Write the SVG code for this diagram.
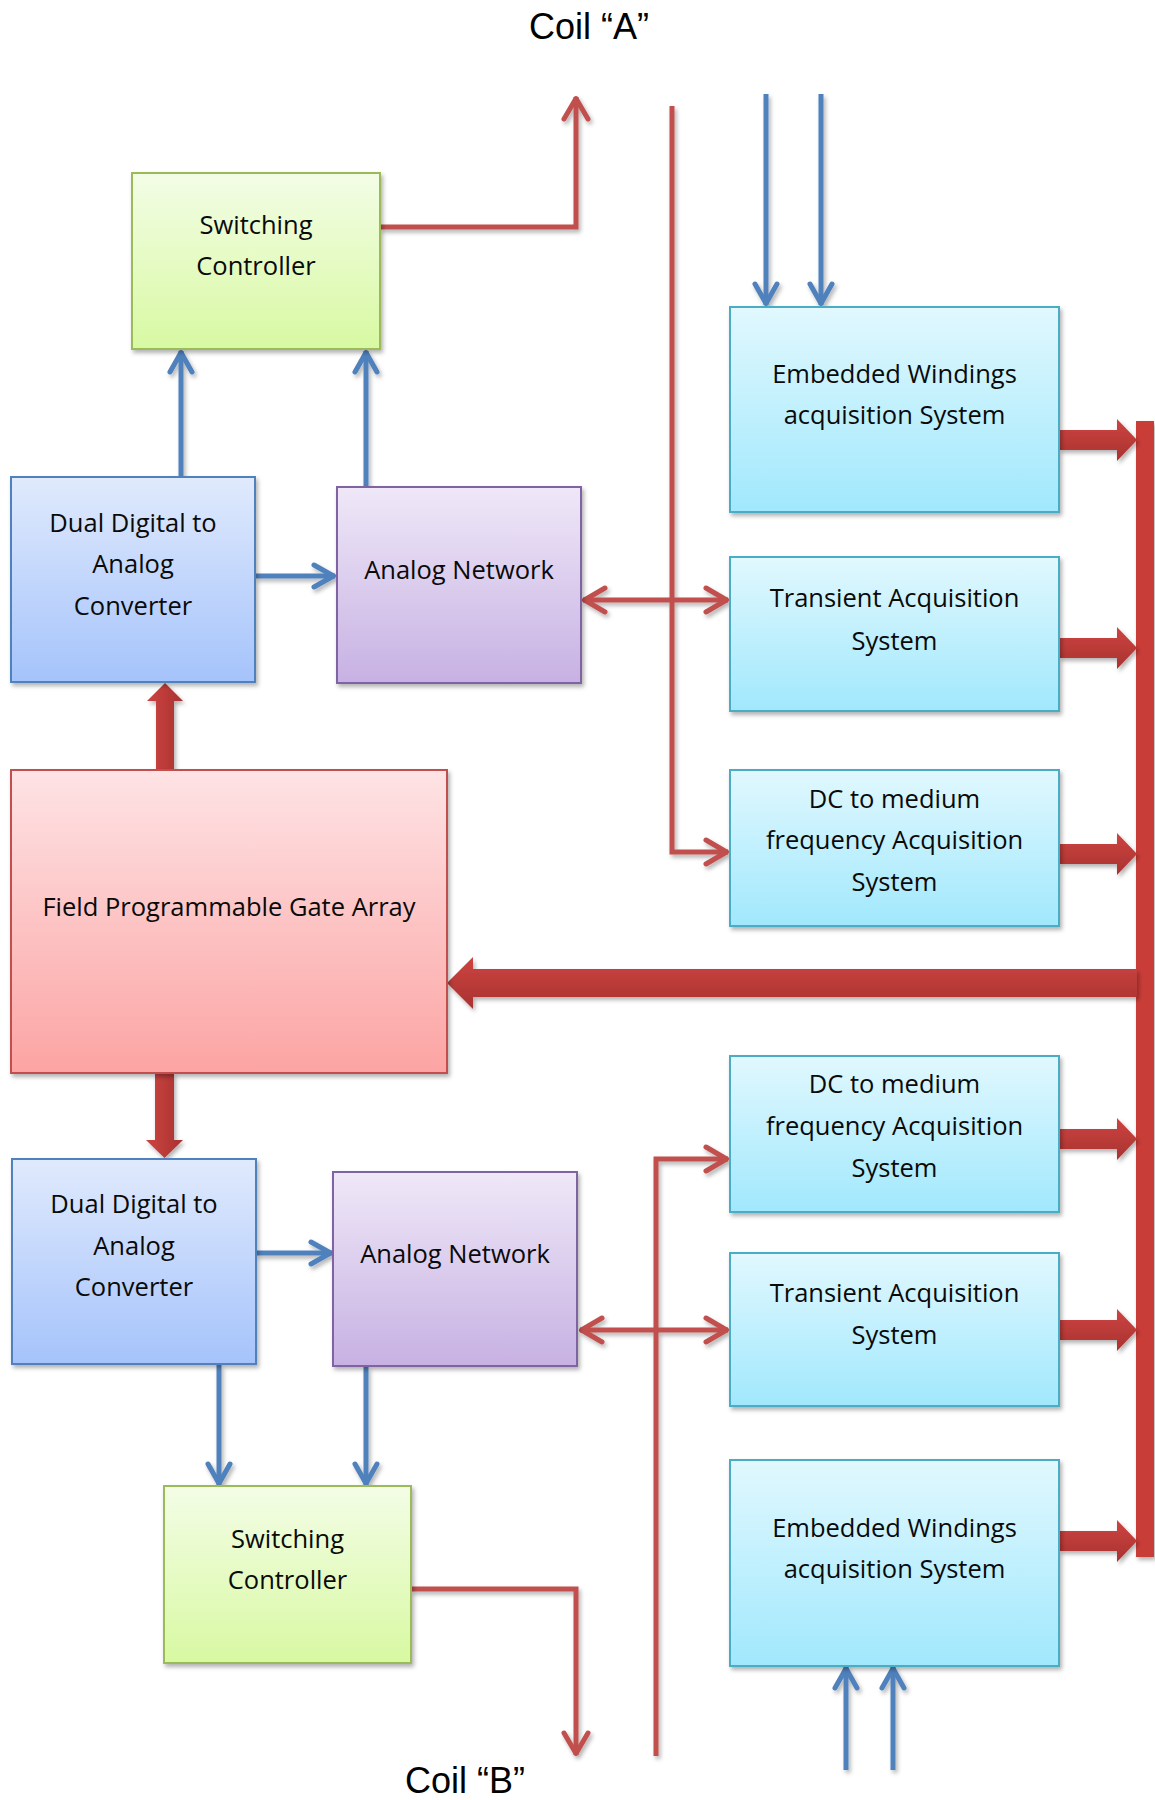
<svg xmlns="http://www.w3.org/2000/svg" width="1155" height="1800" viewBox="0 0 1155 1800">
<style>
.lbl{font-family:"Open Sans","DejaVu Sans",sans-serif;font-size:25.5px;fill:#0a0a0a;text-anchor:middle}
.coil{font-family:"Liberation Sans",Arial,sans-serif;font-size:36px;fill:#000;text-anchor:middle}
.box{stroke-width:2;filter:url(#sh)}
.red{fill:none;stroke:#c0504d;stroke-width:5}
.blue{fill:none;stroke:#4f81bd;stroke-width:5}
.thick{fill:url(#gThickH);filter:url(#sh)}
</style>
<defs>
<filter id="sh" x="-10%" y="-10%" width="130%" height="130%">
<feDropShadow dx="2" dy="3" stdDeviation="2" flood-color="#000" flood-opacity="0.3"/>
</filter>
<linearGradient id="gGreen" x1="0" y1="0" x2="0" y2="1"><stop offset="0" stop-color="#f3fde6"/><stop offset="1" stop-color="#d8f9a2"/></linearGradient>
<linearGradient id="gBlue" x1="0" y1="0" x2="0" y2="1"><stop offset="0" stop-color="#e0eafd"/><stop offset="1" stop-color="#a5c3fb"/></linearGradient>
<linearGradient id="gPurple" x1="0" y1="0" x2="0" y2="1"><stop offset="0" stop-color="#efe8f8"/><stop offset="1" stop-color="#c7b1e3"/></linearGradient>
<linearGradient id="gPink" x1="0" y1="0" x2="0" y2="1"><stop offset="0" stop-color="#fee3e5"/><stop offset="1" stop-color="#fca4a3"/></linearGradient>
<linearGradient id="gCyan" x1="0" y1="0" x2="0" y2="1"><stop offset="0" stop-color="#e1f8fe"/><stop offset="1" stop-color="#a1e8fd"/></linearGradient>
<linearGradient id="gThickH" x1="0" y1="0" x2="0" y2="1"><stop offset="0" stop-color="#cd4441"/><stop offset="1" stop-color="#a93230"/></linearGradient>
<linearGradient id="gThickV" x1="0" y1="0" x2="1" y2="0"><stop offset="0" stop-color="#cd4441"/><stop offset="1" stop-color="#a93230"/></linearGradient>
<marker id="aRed" markerUnits="userSpaceOnUse" viewBox="-26 -16 30 32" markerWidth="30" markerHeight="32" refX="0" refY="0" orient="auto-start-reverse">
<path d="M-22,-12 L-1.5,0 L-22,12" fill="none" stroke="#c0504d" stroke-width="5" stroke-linecap="round" stroke-linejoin="round"/>
</marker>
<marker id="aBlue" markerUnits="userSpaceOnUse" viewBox="-26 -16 30 32" markerWidth="30" markerHeight="32" refX="0" refY="0" orient="auto-start-reverse">
<path d="M-21,-11 L-1.5,0 L-21,11" fill="none" stroke="#4f81bd" stroke-width="5" stroke-linecap="round" stroke-linejoin="round"/>
</marker>
</defs>
<rect width="1155" height="1800" fill="#fff"/>

<text class="coil" x="589" y="39">Coil “A”</text>
<text class="coil" x="465" y="1793">Coil “B”</text>

<g id="connectors">
<g filter="url(#sh)">
<path class="red" d="M380,227 H576 V97" marker-end="url(#aRed)"/>
<path class="red" d="M672,106 V852 H728" marker-end="url(#aRed)"/>
<path class="red" d="M583,600 H728" marker-start="url(#aRed)" marker-end="url(#aRed)"/>
<path class="red" d="M656,1756 V1159 H728" marker-end="url(#aRed)"/>
<path class="red" d="M580,1330 H728" marker-start="url(#aRed)" marker-end="url(#aRed)"/>
<path class="red" d="M411,1589 H576 V1755" marker-end="url(#aRed)"/>
<path class="blue" d="M766,94 V305" marker-end="url(#aBlue)"/>
<path class="blue" d="M821,94 V305" marker-end="url(#aBlue)"/>
<path class="blue" d="M181,477 V351" marker-end="url(#aBlue)"/>
<path class="blue" d="M366,487 V351" marker-end="url(#aBlue)"/>
<path class="blue" d="M255,576 H335" marker-end="url(#aBlue)"/>
<path class="blue" d="M256,1253 H332" marker-end="url(#aBlue)"/>
<path class="blue" d="M219,1365 V1485" marker-end="url(#aBlue)"/>
<path class="blue" d="M366,1367 V1485" marker-end="url(#aBlue)"/>
<path class="blue" d="M846,1770 V1667" marker-end="url(#aBlue)"/>
<path class="blue" d="M893,1770 V1667" marker-end="url(#aBlue)"/>
</g>
<rect x="1136" y="421" width="18" height="1136" fill="#c93c39" filter="url(#sh)"/>
<polygon class="thick" points="1059,430 1117,430 1117,419 1137,440 1117,461 1117,450 1059,450"/>
<polygon class="thick" points="1059,638 1117,638 1117,627 1137,648 1117,669 1117,658 1059,658"/>
<polygon class="thick" points="1059,844 1117,844 1117,833 1137,854 1117,875 1117,864 1059,864"/>
<polygon class="thick" points="1059,1129 1117,1129 1117,1118 1137,1139 1117,1160 1117,1149 1059,1149"/>
<polygon class="thick" points="1059,1320 1117,1320 1117,1309 1137,1330 1117,1351 1117,1340 1059,1340"/>
<polygon class="thick" points="1059,1531 1117,1531 1117,1520 1137,1541 1117,1562 1117,1551 1059,1551"/>
<polygon class="thick" points="1137,969 473,969 473,957 447,983 473,1009 473,997 1137,997"/>
<polygon points="156,770 156,701 147,701 165,683 183,701 174,701 174,770" fill="url(#gThickV)" filter="url(#sh)"/>
<polygon points="155,1073 155,1140 146,1140 164.5,1158 183,1140 174,1140 174,1073" fill="url(#gThickV)" filter="url(#sh)"/>
</g>

<g id="sc1">
<rect class="box" x="132" y="173" width="248" height="176" fill="url(#gGreen)" stroke="#9bbb59"/>
<text class="lbl" x="256" y="234">Switching</text>
<text class="lbl" x="256" y="275">Controller</text>
</g>
<g id="dac1">
<rect class="box" x="11" y="477" width="244" height="205" fill="url(#gBlue)" stroke="#4f81bd"/>
<text class="lbl" x="133" y="532">Dual Digital to</text>
<text class="lbl" x="133" y="573">Analog</text>
<text class="lbl" x="133" y="615">Converter</text>
</g>
<g id="an1">
<rect class="box" x="337" y="487" width="244" height="196" fill="url(#gPurple)" stroke="#8064a2"/>
<text class="lbl" x="459" y="579">Analog Network</text>
</g>
<g id="ew1">
<rect class="box" x="730" y="307" width="329" height="205" fill="url(#gCyan)" stroke="#4bacc6"/>
<text class="lbl" x="894.5" y="383">Embedded Windings</text>
<text class="lbl" x="894.5" y="424">acquisition System</text>
</g>
<g id="ta1">
<rect class="box" x="730" y="557" width="329" height="154" fill="url(#gCyan)" stroke="#4bacc6"/>
<text class="lbl" x="894.5" y="607">Transient Acquisition</text>
<text class="lbl" x="894.5" y="650">System</text>
</g>
<g id="dc1">
<rect class="box" x="730" y="770" width="329" height="156" fill="url(#gCyan)" stroke="#4bacc6"/>
<text class="lbl" x="894.5" y="808">DC to medium</text>
<text class="lbl" x="894.5" y="849">frequency Acquisition</text>
<text class="lbl" x="894.5" y="891">System</text>
</g>
<g id="fpga">
<rect class="box" x="11" y="770" width="436" height="303" fill="url(#gPink)" stroke="#c0504d"/>
<text class="lbl" x="229" y="916">Field Programmable Gate Array</text>
</g>
<g id="dc2">
<rect class="box" x="730" y="1056" width="329" height="156" fill="url(#gCyan)" stroke="#4bacc6"/>
<text class="lbl" x="894.5" y="1093">DC to medium</text>
<text class="lbl" x="894.5" y="1135">frequency Acquisition</text>
<text class="lbl" x="894.5" y="1177">System</text>
</g>
<g id="dac2">
<rect class="box" x="12" y="1159" width="244" height="205" fill="url(#gBlue)" stroke="#4f81bd"/>
<text class="lbl" x="134" y="1213">Dual Digital to</text>
<text class="lbl" x="134" y="1255">Analog</text>
<text class="lbl" x="134" y="1296">Converter</text>
</g>
<g id="an2">
<rect class="box" x="333" y="1172" width="244" height="194" fill="url(#gPurple)" stroke="#8064a2"/>
<text class="lbl" x="455" y="1263">Analog Network</text>
</g>
<g id="ta2">
<rect class="box" x="730" y="1253" width="329" height="153" fill="url(#gCyan)" stroke="#4bacc6"/>
<text class="lbl" x="894.5" y="1302">Transient Acquisition</text>
<text class="lbl" x="894.5" y="1344">System</text>
</g>
<g id="sc2">
<rect class="box" x="164" y="1486" width="247" height="177" fill="url(#gGreen)" stroke="#9bbb59"/>
<text class="lbl" x="287.5" y="1548">Switching</text>
<text class="lbl" x="287.5" y="1589">Controller</text>
</g>
<g id="ew2">
<rect class="box" x="730" y="1460" width="329" height="206" fill="url(#gCyan)" stroke="#4bacc6"/>
<text class="lbl" x="894.5" y="1537">Embedded Windings</text>
<text class="lbl" x="894.5" y="1578">acquisition System</text>
</g>
</svg>
